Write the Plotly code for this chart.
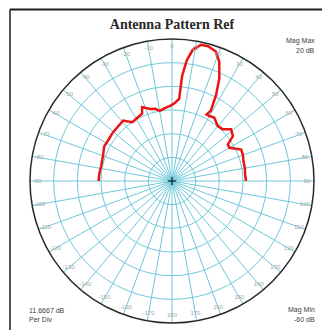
import plotly.graph_objects as go

# antenna pattern, angle in degrees (0 = boresight, clockwise), magnitude in dB
angles = [-90, -84, -78, -70, -63, -55, -51, -45, -39, -34, -29, -24, -22, -17,
          -13, -10, -6, -1, 2, 5, 5.5, 7, 9, 12, 15, 18.7, 21.6, 24.8, 27.2,
          28.9, 27.5, 30, 33.6, 39.6, 44.4, 48.8, 53.6, 56.8, 60, 65.6, 70,
          75, 80, 85, 90]
mag_db = [-23.8, -24.0, -24.3, -23.8, -22.5, -22.6, -22.3, -22.2, -21.7, -25.0,
          -24.5, -23.7, -20.7, -22.9, -23.5, -24.9, -24.0, -22.8, -21.5, -19.4,
          -8.0, 0.0, 5.5, 8.6, 8.8, 7.4, 3.3, -4.4, -12.6, -20.4, -23.0, -23.0,
          -22.4, -24.7, -24.3, -21.3, -22.7, -27.1, -27.3, -22.5, -22.8, -23.5,
          -23.5, -23.8, -23.5]

tick_angles = list(range(-170, 190, 10))
tick_labels = [str(a) for a in tick_angles]

mag_min = -60
mag_top = 10
per_div = 11.6667

grid_col = "rgb(110,200,218)"

W = H = 330
OFF = 8  # page body margin pushes the figure right/down


def px(x):
    return (x - OFF) / W


def py(y):
    return 1 - (y - OFF) / H


fig = go.Figure()
fig.add_trace(go.Scatterpolar(
    r=mag_db, theta=angles, mode="lines",
    line=dict(color="rgb(235,20,20)", width=2.5),
    hoverinfo="skip", showlegend=False))
# angle labels sit just inside the outer ring
fig.add_trace(go.Scatterpolar(
    r=[mag_top - 3.5] * len(tick_angles), theta=tick_angles, mode="text",
    text=tick_labels, textfont=dict(size=6, color="rgb(165,165,165)",
                                    family="Liberation Sans"),
    hoverinfo="skip", showlegend=False))
# centre mark
fig.add_trace(go.Scatterpolar(
    r=[mag_min], theta=[0], mode="markers",
    marker=dict(symbol="cross-thin", size=6, color="black",
                line=dict(color="black", width=1)),
    hoverinfo="skip", showlegend=False))

fig.update_layout(
    width=W, height=H,
    margin=dict(l=0, r=0, t=0, b=0),
    paper_bgcolor="white", plot_bgcolor="white",
    polar=dict(
        domain=dict(x=[px(30), px(314)], y=[py(323), py(39)]),
        bgcolor="white",
        angularaxis=dict(rotation=90, direction="clockwise", dtick=10,
                         showticklabels=False, ticks="",
                         gridcolor=grid_col, gridwidth=1,
                         linecolor="rgb(40,40,40)", linewidth=1.5),
        radialaxis=dict(range=[mag_min, mag_top], dtick=per_div, tick0=mag_min,
                        showticklabels=False, ticks="", showline=False,
                        gridcolor=grid_col, gridwidth=1),
    ),
    title=dict(text="<b>Antenna Pattern Ref</b>", x=px(172), xanchor="center",
               y=py(24), yanchor="middle",
               font=dict(family="Liberation Serif", size=14, color="rgb(40,40,40)")),
    shapes=[
        dict(type="line", xref="paper", yref="paper", x0=px(10), x1=1.05,
             y0=py(9.5), y1=py(9.5), line=dict(color="rgb(30,30,30)", width=2)),
        dict(type="line", xref="paper", yref="paper", x0=px(10), x1=px(10),
             y0=-0.05, y1=py(9.5), line=dict(color="rgb(30,30,30)", width=1.5)),
    ],
)

small = dict(family="Liberation Sans", size=7, color="rgb(60,60,60)")
notes = [
    ("Mag Max", 317, 41, "right"),
    ("20 dB", 317, 50.5, "right"),
    ("11.6667 dB", 27, 310, "left"),
    ("Per Div", 27, 319, "left"),
    ("Mag Min", 317, 310, "right"),
    ("-60 dB", 317, 319, "right"),
]
for txt, x, y, anchor in notes:
    fig.add_annotation(text=txt, x=px(x), y=py(y), xref="paper", yref="paper",
                       xanchor=anchor, yanchor="middle", showarrow=False, font=small)

fig.write_html("out.html")
